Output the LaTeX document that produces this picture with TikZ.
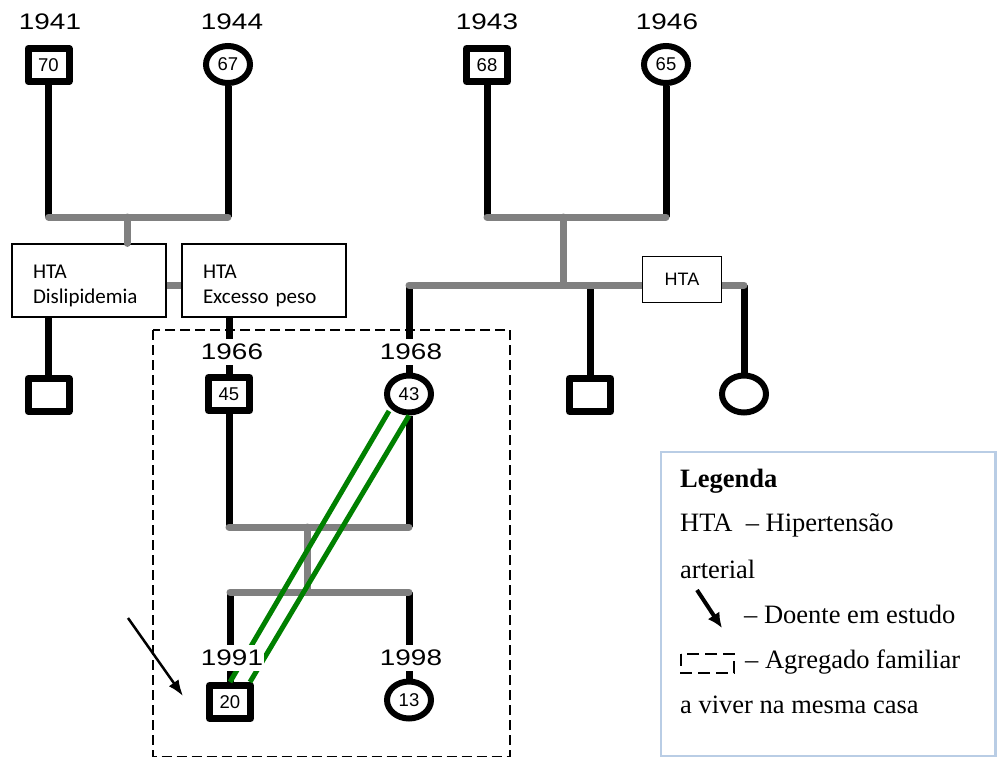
\documentclass[tikz,border=0pt]{standalone}
\usepackage{fontspec}
\setmainfont{Liberation Serif}
\newfontfamily\arialf{Liberation Sans}
\newfontfamily\calibf{Carlito}
\usetikzlibrary{shapes.geometric,arrows.meta}
\definecolor{lgray}{RGB}{128,128,128}
\definecolor{lgreen}{RGB}{0,128,0}
\definecolor{lblue}{RGB}{185,205,229}
\newcommand{\yrtxt}[1]{\scalebox{1.24}[1]{\arialf\fontsize{22.5}{22.5}\selectfont #1}}
\begin{document}
\begin{tikzpicture}[x=1pt,y=-1pt,
  sqbox/.style={draw,rectangle,line width=7pt,line join=round,fill=white,
    minimum width=41pt,minimum height=33pt,inner sep=0pt,
    font=\arialf\fontsize{18.5}{18.5}\selectfont},
  cibox/.style={draw,ellipse,line width=6pt,fill=white,
    minimum width=44pt,minimum height=37pt,inner sep=0pt,
    font=\arialf\fontsize{18.5}{18.5}\selectfont},
  blk/.style={line width=7pt,black},
  gry/.style={line width=7pt,lgray,line cap=round},
  grn/.style={line width=5pt,lgreen},
  yrlab/.style={fill=white,inner xsep=1pt,inner ysep=5pt},
  tbox/.style={draw,line width=1.2pt,fill=white,minimum height=73pt,
    align=left,inner xsep=21pt,font=\calibf\fontsize{21}{25}\selectfont},
  htabox/.style={draw,line width=1.2pt,fill=white,minimum width=79pt,
    minimum height=46pt,font=\arialf\fontsize{18}{18}\selectfont},
  legtxt/.style={anchor=base west,inner sep=0pt,font=\fontsize{26.5}{26.5}\selectfont},
  ptarrow/.style={black,-{Latex[length=16pt,width=12pt]}}
]
\useasboundingbox (0,0) rectangle (997,758);

% generation I
\node[sqbox] (p1) at (48.5,65) {70};
\node[cibox] (p2) at (228,64.5) {67};
\node[sqbox] (p3) at (487,65) {68};
\node[cibox] (p4) at (666,64.5) {65};

% boxes of couple 1 children
\node[tbox,text width=112pt] (bx1) at (89,280.5) {\rule{0pt}{23.5pt}HTA\\Dislipidemia};
\node[tbox,text width=122pt] (bx2) at (264,280.5) {\rule{0pt}{23.5pt}HTA\\Excesso peso};

% generation II
\node[sqbox] (c1) at (48.5,395) {};
\node[sqbox] (f66) at (229,394) {45};
\node[cibox] (m68) at (409,394) {43};
\node[sqbox] (s2) at (590,395) {};
\node[cibox] (s3) at (744,394) {};

% generation III
\node[sqbox] (k91) at (230,702) {20};
\node[cibox] (k98) at (409,700) {13};

\coordinate (cpl1) at (127,217);
\coordinate (cpl2) at (563,217);
\coordinate (sib2) at (563,285);
\coordinate (cpl3) at (307,527);
\coordinate (sib3) at (307,592);

% black lines
\draw[blk] (p1.south) -- (p1.south |- cpl1);
\draw[blk] (p2.south) -- (p2.south |- cpl1);
\draw[blk] (p3.south) -- (p3.south |- cpl2);
\draw[blk] (p4.south) -- (p4.south |- cpl2);
\draw[blk] (bx1.south -| c1) -- (c1.north);
\draw[blk] (bx2.south -| f66) -- (f66.north);
\draw[blk] (m68 |- sib2) -- (m68.north);
\draw[blk] (s2 |- sib2) -- (s2.north);
\draw[blk] (s3 |- sib2) -- (s3.north);
\draw[blk] (f66.south) -- (f66 |- cpl3);
\draw[blk] (m68.south) -- (m68 |- cpl3);
\draw[blk] (k91 |- sib3) -- (k91.north);
\draw[blk] (k98 |- sib3) -- (k98.north);

% grey lines
\draw[gry] (p1.south |- cpl1) -- (p2.south |- cpl1);
\draw[gry] (cpl1) -- (bx1.north -| cpl1);
\draw[gry,line cap=butt] ([yshift=-4.5pt]bx1.east) -- ([yshift=-4.5pt]bx2.west);
\draw[gry] (p3.south |- cpl2) -- (p4.south |- cpl2);
\draw[gry] (cpl2) -- (sib2);
\draw[gry] (m68 |- sib2) -- (s3 |- sib2);
\draw[gry] (f66 |- cpl3) -- (m68 |- cpl3);
\draw[gry] (cpl3) -- (sib3);
\draw[gry] (k91 |- sib3) -- (k98 |- sib3);

\node[htabox] (hta) at (682,279.5) {HTA};

% green lines
\draw[grn] ([xshift=-20pt,yshift=4.5pt]m68.south) -- (k91.north);
\draw[grn] (m68.south) -- ([xshift=20pt]k91.north);

% years
\node (y41) at (50,22) {\yrtxt{1941}};
\node (y44) at (232,22) {\yrtxt{1944}};
\node (y43) at (487,22) {\yrtxt{1943}};
\node (y46) at (667,22) {\yrtxt{1946}};
\node[yrlab] (y66) at (232,352) {\yrtxt{1966}};
\node[yrlab] (y68) at (411,352) {\yrtxt{1968}};
\node[yrlab] (y91) at (232,658) {\yrtxt{1991}};
\node[yrlab] (y98) at (411,658) {\yrtxt{1998}};

% household (dashed box)
\draw[line width=1.5pt,dash pattern=on 10pt off 5pt] (153,330) rectangle (510,756.5);

% patient arrow
\coordinate (arT) at (128,618);
\coordinate (arH) at (183,696);
\draw[ptarrow,line width=2.5pt] (arT) -- (arH);

% legend
\draw[lblue,line width=2.5pt] (661,452) rectangle (995.5,756);
\node[legtxt] (l1) at (680,487) {\textbf{Legenda}};
\node[legtxt] (l2) at (680,531) {HTA~~– Hipertensão};
\node[legtxt] (l3) at (680,578) {arterial};
\coordinate (lgT) at (697,590);
\coordinate (lgH) at (722,628);
\draw[black,line width=4pt,-{Latex[length=15pt,width=14pt]}] (lgT) -- (lgH);
\node[legtxt] (l4) at (744,623) {– Doente em estudo};
\draw[line width=1.5pt,dash pattern=on 12pt off 6pt] (681,654) rectangle (734,673);
\node[legtxt] (l5) at (745,668) {– Agregado familiar};
\node[legtxt] (l6) at (680,713) {a viver na mesma casa};
\end{tikzpicture}
\end{document}
